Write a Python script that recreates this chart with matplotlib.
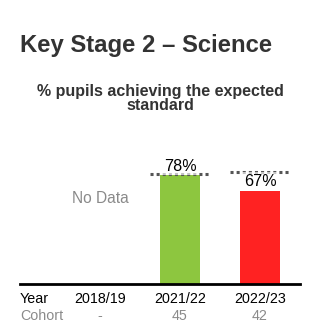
import numpy as np
import matplotlib.pyplot as plt

plt.rcParams['font.family'] = ['Liberation Sans', 'DejaVu Sans']

# Chart data
years = ['2018/19', '2021/22', '2022/23']
pupils = [np.nan, 78, 67]          # % achieving expected standard
national = [np.nan, 79, 80]        # national comparison (dashed line)
cohort = ['-', '45', '42']
bar_colors = ['#8dc63f', '#8dc63f', '#ff2222']

W, H = 326, 336
fig = plt.figure(figsize=(W / 100, H / 100), dpi=100)

# plot area in pixels: x 20..300, y (100%) 144.3 .. (0%) 284.3
ax = fig.add_axes([20 / W, (H - 284.3) / H, 280 / W, 140 / H])
x = np.arange(len(years))
ax.set_xlim(-1, 2.5)
ax.set_ylim(0, 100)

for i in range(len(years)):
    if np.isnan(pupils[i]):
        ax.text(x[i], 0.615, 'No Data', transform=ax.get_xaxis_transform(),
                ha='center', va='center', fontsize=11.2, color='#8a8a8a')
        continue
    ax.bar(x[i], pupils[i], width=0.5, color=bar_colors[i], zorder=2)
    ax.hlines(national[i], x[i] - 0.375, x[i] + 0.375, colors='#555555',
              linestyles=(0, (1, 1)), linewidth=2.2, zorder=3)
    ax.annotate(f'{pupils[i]}%', (x[i], pupils[i]), xytext=(0, 3.3),
                textcoords='offset points', ha='center', va='baseline',
                fontsize=11.6, color='#000000', zorder=4,
                bbox=dict(boxstyle='square,pad=0.1', fc='white', ec='none', alpha=0.65))

for s in ['top', 'left', 'right']:
    ax.spines[s].set_visible(False)
ax.spines['bottom'].set_linewidth(2.0)
ax.spines['bottom'].set_color('black')
ax.spines['bottom'].set_zorder(5)
ax.set_xticks([])
ax.set_yticks([])

# table rows under the axis
trans = ax.get_xaxis_transform()
ax.text(-1, -19 / 140, 'Year', transform=trans, ha='left', va='baseline',
        fontsize=10.3, color='#000000', clip_on=False)
ax.text(-1, -35.7 / 140, 'Cohort', transform=trans, ha='left', va='baseline',
        fontsize=10.3, color='#8a8a8a', clip_on=False)
for i in range(len(years)):
    ax.text(x[i], -19 / 140, years[i], transform=trans, ha='center', va='baseline',
            fontsize=10.3, color='#000000', clip_on=False)
    ax.text(x[i], -35.7 / 140, cohort[i], transform=trans, ha='center', va='baseline',
            fontsize=10.3, color='#8a8a8a', clip_on=False)

# titles
fig.text(20 / W, 1 - 51.7 / H, 'Key Stage 2 \u2013 Science', ha='left', va='baseline',
         fontsize=17.2, fontweight='bold', color='#333333')
fig.text(160 / W, 1 - 95.7 / H, '% pupils achieving the expected', ha='center',
         va='baseline', fontsize=11.5, fontweight='bold', color='#333333')
fig.text(160 / W, 1 - 110 / H, 'standard', ha='center',
         va='baseline', fontsize=11.5, fontweight='bold', color='#333333')

fig.savefig('out.png', dpi=100)
